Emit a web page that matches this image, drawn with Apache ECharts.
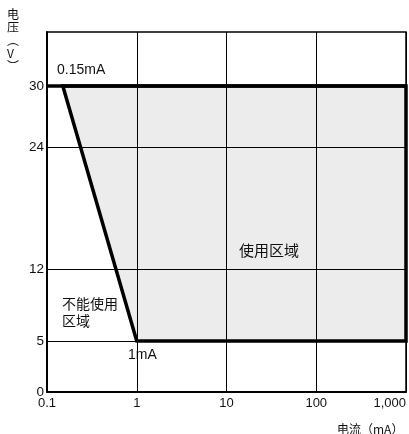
<!DOCTYPE html>
<html lang="zh">
<head>
	<meta charset="UTF-8">
	<title>电压 电流</title>
	<script src="https://cdn.jsdelivr.net/npm/echarts@6/dist/echarts.min.js"></script>
	<style>
		html, body { margin: 0; padding: 0; background: #fff; }
	</style>
</head>
<body>
	<div id="app" style="width: 409px;height:434px"></div>

	<script>
		// 使用区域的边界 (电流 mA, 电压 V)
		var boundaryCurrent = [0.15, 1000, 1000, 1];
		var boundaryVoltage = [30, 30, 5, 5];
		// 30V 的粗线
		var limitCurrent = [0.1, 1000];
		var limitVoltage = [30, 30];
		// 刻度
		var yTicks = [0, 5, 12, 24, 30];
		var xTickText = {0.1: '0.1', 1: '1', 10: '10', 100: '100', 1000: '1,000'};

		var font = '"Liberation Sans", "Noto Sans CJK SC", sans-serif';
		var cjk = '"Noto Sans CJK SC", sans-serif';

		var polyData = boundaryCurrent.map(function (c, i) { return [c, boundaryVoltage[i]]; });
		var limitData = limitCurrent.map(function (c, i) { return [c, limitVoltage[i]]; });

		function polyItem(style) {
			return function (params, api) {
				if (params.dataIndex !== 0) return;
				var pts = polyData.map(function (d) { return api.coord(d); });
				return { type: 'polygon', shape: { points: pts }, style: style };
			};
		}

		var myChart = echarts.init(document.getElementById('app'));
		var option = {
			animation: false,
			grid: {
				left: 47, right: 3, top: 32, bottom: 42,
				show: true,
				borderColor: '#000',
				borderWidth: 1.5
			},
			xAxis: {
				type: 'log',
				logBase: 10,
				min: 0.1,
				max: 1000,
				axisLine: { lineStyle: { color: '#000', width: 2 } },
				axisTick: { show: false },
				splitLine: { show: true, lineStyle: { color: '#000', width: 1 } },
				axisLabel: {
					color: '#111',
					fontFamily: font,
					fontSize: 13,
					margin: 5,
					alignMaxLabel: 'right',
					formatter: function (v) { return xTickText[v] || ''; }
				}
			},
			yAxis: {
				type: 'value',
				min: 0,
				max: 35.3,
				axisLine: { show: true, lineStyle: { color: '#000', width: 2 } },
				axisTick: { show: false, customValues: yTicks },
				splitLine: { show: true, lineStyle: { color: '#000', width: 1 } },
				axisLabel: {
					color: '#111',
					fontFamily: font,
					fontSize: 13.5,
					margin: 3,
					customValues: yTicks
				}
			},
			series: [
				{
					// 填充放在网格线下面
					type: 'custom',
					data: polyData,
					renderItem: polyItem({ fill: '#ececec' }),
					z: -1
				},
				{
					type: 'custom',
					data: polyData,
					renderItem: polyItem({ fill: 'none', stroke: '#000', lineWidth: 3.5, lineJoin: 'miter' }),
					z: 3
				},
				{
					type: 'line',
					data: limitData,
					symbol: 'none',
					lineStyle: { color: '#000', width: 3.5 },
					z: 4
				}
			],
			graphic: [
				{ type: 'text', left: 7, top: 8, style: { text: '电\n压\n︵\nV\n︶', font: '12px ' + cjk, lineHeight: 13, fill: '#111' } },
				{ type: 'text', left: 337, top: 423, style: { text: '电流（mA）', font: '12px ' + cjk, fill: '#111' } },
				{ type: 'text', left: 57, top: 63, style: { text: '0.15mA', font: '14px ' + font, fill: '#111' } },
				{ type: 'text', left: 128, top: 348, style: { text: '1mA', font: '14px ' + font, fill: '#111' } },
				{ type: 'text', left: 62, top: 297, style: { text: '不能使用\n区域', font: '14px ' + font, lineHeight: 17, fill: '#111' } },
				{ type: 'text', left: 239, top: 244, style: { text: '使用区域', font: '15px ' + font, fill: '#111' } }
			]
		};
		myChart.setOption(option);
	</script>
</body>
</html>
